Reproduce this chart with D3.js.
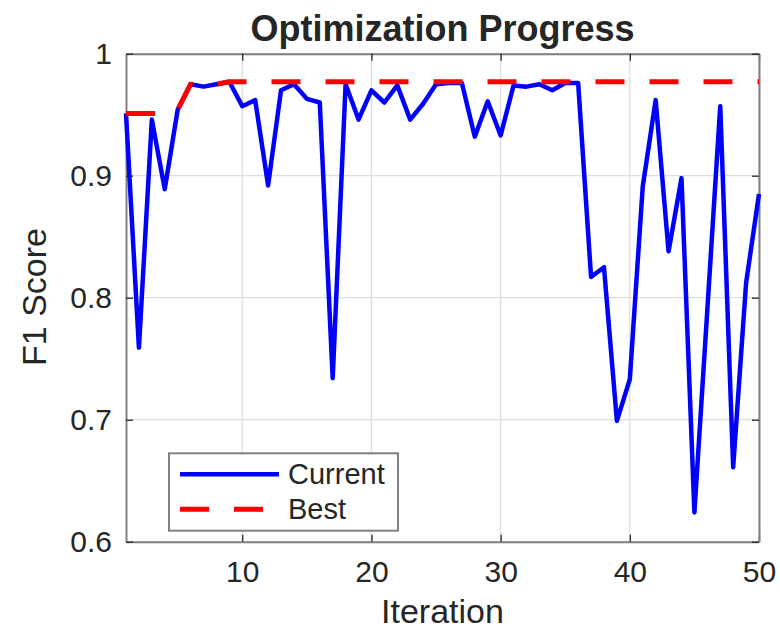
<!DOCTYPE html>
<html>
<head>
<meta charset="utf-8">
<style>
  body { margin: 0; background: #fff; }
  #chart text { font-family: 'Liberation Sans', Arial, sans-serif; fill: #262626; }
</style>
</head>
<body>
<div id="chart"></div>
<script src="https://cdn.jsdelivr.net/npm/d3@7"></script>
<script>
  // iteration numbers and F1 scores
  var iterations = d3.range(1, 51);
  var current = [0.951, 0.759, 0.946, 0.889, 0.954, 0.975, 0.973, 0.975, 0.977, 0.957,
                 0.962, 0.892, 0.970, 0.975, 0.963, 0.960, 0.734, 0.975, 0.946, 0.970,
                 0.960, 0.974, 0.946, 0.959, 0.975, 0.976, 0.976, 0.932, 0.961, 0.933,
                 0.974, 0.973, 0.975, 0.970, 0.976, 0.976, 0.817, 0.825, 0.699, 0.733,
                 0.891, 0.962, 0.838, 0.898, 0.624, 0.790, 0.957, 0.661, 0.812, 0.885];
  var best = [0.951, 0.951, 0.951, 0.951, 0.954, 0.975, 0.975, 0.975, 0.977, 0.977,
              0.977, 0.977, 0.977, 0.977, 0.977, 0.977, 0.977, 0.977, 0.977, 0.977,
              0.977, 0.977, 0.977, 0.977, 0.977, 0.977, 0.977, 0.977, 0.977, 0.977,
              0.977, 0.977, 0.977, 0.977, 0.977, 0.977, 0.977, 0.977, 0.977, 0.977,
              0.977, 0.977, 0.977, 0.977, 0.977, 0.977, 0.977, 0.977, 0.977, 0.977];
  var xTicks = [10, 20, 30, 40, 50];
  var yTicks = [0.6, 0.7, 0.8, 0.9, 1];
  var yTickLabels = ["0.6", "0.7", "0.8", "0.9", "1"];
  var seriesNames = ["Current", "Best"];

  var width = 780, height = 634;
  var plotLeft = 126, plotRight = 759, plotTop = 53.7, plotBottom = 541.7;
  var axisColor = "#808080";

  var svg = d3.select("#chart").append("svg")
    .attr("width", width).attr("height", height);

  var x = d3.scaleLinear().domain([1, 50]).range([plotLeft, plotRight]);
  var y = d3.scaleLinear().domain([0.6, 1]).range([plotBottom, plotTop]);

  // grid
  svg.append("g").selectAll("line").data(xTicks).enter().append("line")
    .attr("x1", function(d) { return x(d); }).attr("x2", function(d) { return x(d); })
    .attr("y1", plotTop).attr("y2", plotBottom)
    .attr("stroke", "#dedede").attr("stroke-width", 1.3);
  svg.append("g").selectAll("line").data(yTicks).enter().append("line")
    .attr("y1", function(d) { return y(d); }).attr("y2", function(d) { return y(d); })
    .attr("x1", plotLeft).attr("x2", plotRight)
    .attr("stroke", "#dedede").attr("stroke-width", 1.3);

  // axes, ticks inside, box all round
  function styleAxis(g) {
    g.select(".domain").attr("stroke", axisColor).attr("stroke-width", 2);
    g.selectAll(".tick line").attr("stroke", "#262626").attr("stroke-width", 1.3);
    g.selectAll(".tick text").attr("fill", "#262626")
      .style("font-size", "30px").style("font-family", "'Liberation Sans', Arial, sans-serif");
  }
  svg.append("g").attr("transform", "translate(0," + plotBottom + ")")
    .call(d3.axisBottom(x).tickValues(xTicks).tickSizeInner(-7).tickSizeOuter(0).tickPadding(19))
    .call(styleAxis);
  svg.append("g").attr("transform", "translate(0," + plotTop + ")")
    .call(d3.axisTop(x).tickValues(xTicks).tickSizeInner(-7).tickSizeOuter(0).tickFormat(""))
    .call(styleAxis);
  svg.append("g").attr("transform", "translate(" + plotLeft + ",0)")
    .call(d3.axisLeft(y).tickValues(yTicks).tickSizeInner(-7).tickSizeOuter(0).tickPadding(14)
      .tickFormat(function(d, i) { return yTickLabels[i]; }))
    .call(styleAxis);
  svg.append("g").attr("transform", "translate(" + plotRight + ",0)")
    .call(d3.axisRight(y).tickValues(yTicks).tickSizeInner(-7).tickSizeOuter(0).tickFormat(""))
    .call(styleAxis);

  // lines
  var line = d3.line()
    .x(function(d, i) { return x(iterations[i]); })
    .y(function(d) { return y(d); });

  svg.append("path").datum(current)
    .attr("d", line)
    .attr("fill", "none").attr("stroke", "#0000ff").attr("stroke-width", 4.5)
    .attr("stroke-linejoin", "round");
  svg.append("path").datum(best)
    .attr("d", line)
    .attr("fill", "none").attr("stroke", "#ff0000").attr("stroke-width", 5)
    .attr("stroke-dasharray", "29,25");

  // title and labels
  svg.append("text").attr("x", (plotLeft + plotRight) / 2).attr("y", 41)
    .attr("text-anchor", "middle").style("font-size", "36px").style("font-weight", "bold")
    .text("Optimization Progress");
  svg.append("text").attr("x", (plotLeft + plotRight) / 2).attr("y", 623)
    .attr("text-anchor", "middle").style("font-size", "34px")
    .text("Iteration");
  svg.append("text").attr("transform", "translate(46,297) rotate(-90)")
    .attr("text-anchor", "middle").style("font-size", "34px")
    .text("F1 Score");

  // legend
  var lg = svg.append("g");
  lg.append("rect").attr("x", 169).attr("y", 453.3).attr("width", 229).attr("height", 77.4)
    .attr("fill", "#fff").attr("stroke", axisColor).attr("stroke-width", 2);
  var legendItems = [
    { name: seriesNames[0], color: "#0000ff", dash: null, w: 4.5 },
    { name: seriesNames[1], color: "#ff0000", dash: "29,25", w: 5 }
  ];
  legendItems.forEach(function(it, i) {
    var yy = 474.3 + i * 35;
    lg.append("line").attr("x1", 180).attr("x2", 279).attr("y1", yy).attr("y2", yy)
      .attr("stroke", it.color).attr("stroke-width", it.w)
      .attr("stroke-dasharray", it.dash);
    lg.append("text").attr("x", 288).attr("y", yy + 10).style("font-size", "29px")
      .text(it.name);
  });
</script>
</body>
</html>
